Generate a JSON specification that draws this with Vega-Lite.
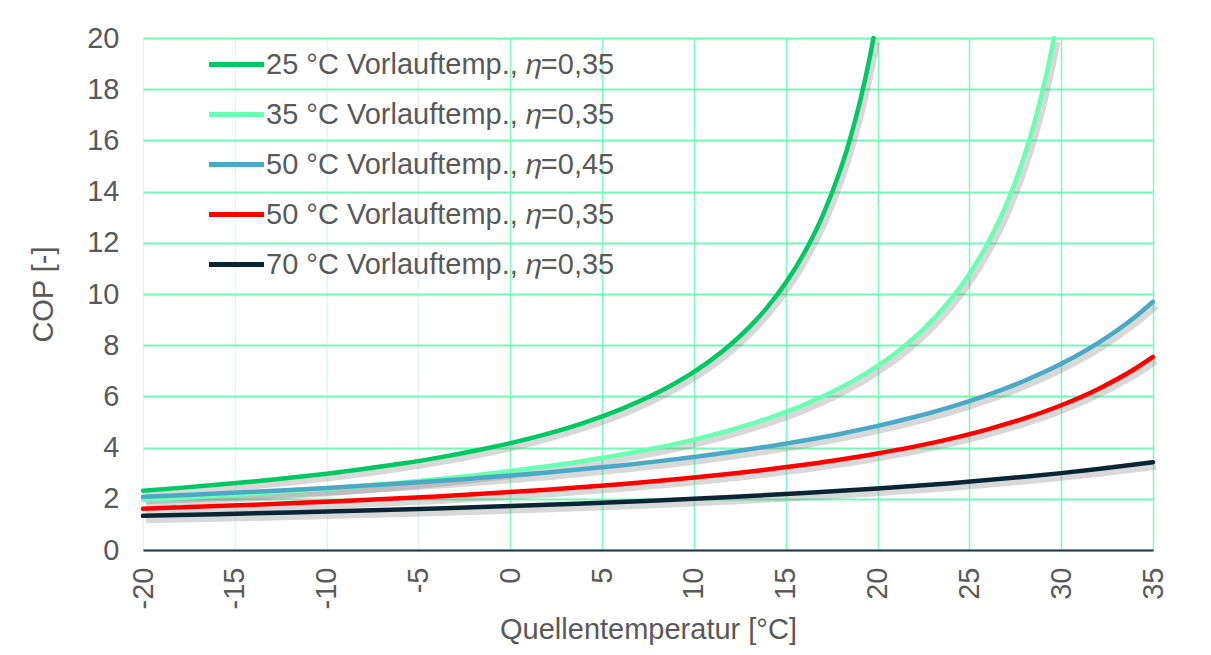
{
  "$schema": "https://vega.github.io/schema/vega-lite/v6.json",
  "width": 1010,
  "height": 512,
  "autosize": {"type": "none"},
  "padding": {"left": 143, "top": 38, "right": 58, "bottom": 105},
  "background": "white",
  "config": {
    "font": "Liberation Sans",
    "view": {"stroke": null},
    "axis": {"labelFont": "Liberation Sans", "titleFont": "Liberation Sans", "labelColor": "#595959", "titleColor": "#595959", "labelFontSize": 29, "titleFontSize": 29, "titleFontWeight": "normal", "ticks": false}
  },
  "datasets": {
    "cop": [
      {"s": "25 °C Vorlauftemp., 𝜂=0,35", "t": -20, "c": 2.319}, {"s": "25 °C Vorlauftemp., 𝜂=0,35", "t": -18, "c": 2.427}, {"s": "25 °C Vorlauftemp., 𝜂=0,35", "t": -16, "c": 2.545}, {"s": "25 °C Vorlauftemp., 𝜂=0,35", "t": -14, "c": 2.676}, {"s": "25 °C Vorlauftemp., 𝜂=0,35", "t": -12, "c": 2.820}, {"s": "25 °C Vorlauftemp., 𝜂=0,35", "t": -10, "c": 2.981}, {"s": "25 °C Vorlauftemp., 𝜂=0,35", "t": -8, "c": 3.162}, {"s": "25 °C Vorlauftemp., 𝜂=0,35", "t": -6, "c": 3.366}, {"s": "25 °C Vorlauftemp., 𝜂=0,35", "t": -4, "c": 3.598}, {"s": "25 °C Vorlauftemp., 𝜂=0,35", "t": -2, "c": 3.865}, {"s": "25 °C Vorlauftemp., 𝜂=0,35", "t": 0, "c": 4.174}, {"s": "25 °C Vorlauftemp., 𝜂=0,35", "t": 2, "c": 4.537}, {"s": "25 °C Vorlauftemp., 𝜂=0,35", "t": 4, "c": 4.969}, {"s": "25 °C Vorlauftemp., 𝜂=0,35", "t": 6, "c": 5.492}, {"s": "25 °C Vorlauftemp., 𝜂=0,35", "t": 8, "c": 6.138}, {"s": "25 °C Vorlauftemp., 𝜂=0,35", "t": 10, "c": 6.957}, {"s": "25 °C Vorlauftemp., 𝜂=0,35", "t": 11, "c": 7.454}, {"s": "25 °C Vorlauftemp., 𝜂=0,35", "t": 12, "c": 8.027}, {"s": "25 °C Vorlauftemp., 𝜂=0,35", "t": 13, "c": 8.696}, {"s": "25 °C Vorlauftemp., 𝜂=0,35", "t": 14, "c": 9.487}, {"s": "25 °C Vorlauftemp., 𝜂=0,35", "t": 15, "c": 10.435}, {"s": "25 °C Vorlauftemp., 𝜂=0,35", "t": 16, "c": 11.595}, {"s": "25 °C Vorlauftemp., 𝜂=0,35", "t": 17, "c": 13.044}, {"s": "25 °C Vorlauftemp., 𝜂=0,35", "t": 18, "c": 14.908}, {"s": "25 °C Vorlauftemp., 𝜂=0,35", "t": 18.5, "c": 16.054}, {"s": "25 °C Vorlauftemp., 𝜂=0,35", "t": 19, "c": 17.392}, {"s": "25 °C Vorlauftemp., 𝜂=0,35", "t": 19.5, "c": 18.973}, {"s": "25 °C Vorlauftemp., 𝜂=0,35", "t": 19.78, "c": 20},
      {"s": "35 °C Vorlauftemp., 𝜂=0,35", "t": -20, "c": 1.961}, {"s": "35 °C Vorlauftemp., 𝜂=0,35", "t": -18, "c": 2.035}, {"s": "35 °C Vorlauftemp., 𝜂=0,35", "t": -16, "c": 2.115}, {"s": "35 °C Vorlauftemp., 𝜂=0,35", "t": -14, "c": 2.201}, {"s": "35 °C Vorlauftemp., 𝜂=0,35", "t": -12, "c": 2.295}, {"s": "35 °C Vorlauftemp., 𝜂=0,35", "t": -10, "c": 2.397}, {"s": "35 °C Vorlauftemp., 𝜂=0,35", "t": -8, "c": 2.508}, {"s": "35 °C Vorlauftemp., 𝜂=0,35", "t": -6, "c": 2.631}, {"s": "35 °C Vorlauftemp., 𝜂=0,35", "t": -4, "c": 2.765}, {"s": "35 °C Vorlauftemp., 𝜂=0,35", "t": -2, "c": 2.915}, {"s": "35 °C Vorlauftemp., 𝜂=0,35", "t": 0, "c": 3.082}, {"s": "35 °C Vorlauftemp., 𝜂=0,35", "t": 2, "c": 3.268}, {"s": "35 °C Vorlauftemp., 𝜂=0,35", "t": 4, "c": 3.479}, {"s": "35 °C Vorlauftemp., 𝜂=0,35", "t": 6, "c": 3.719}, {"s": "35 °C Vorlauftemp., 𝜂=0,35", "t": 8, "c": 3.995}, {"s": "35 °C Vorlauftemp., 𝜂=0,35", "t": 10, "c": 4.314}, {"s": "35 °C Vorlauftemp., 𝜂=0,35", "t": 12, "c": 4.689}, {"s": "35 °C Vorlauftemp., 𝜂=0,35", "t": 14, "c": 5.136}, {"s": "35 °C Vorlauftemp., 𝜂=0,35", "t": 16, "c": 5.676}, {"s": "35 °C Vorlauftemp., 𝜂=0,35", "t": 18, "c": 6.344}, {"s": "35 °C Vorlauftemp., 𝜂=0,35", "t": 20, "c": 7.190}, {"s": "35 °C Vorlauftemp., 𝜂=0,35", "t": 21, "c": 7.704}, {"s": "35 °C Vorlauftemp., 𝜂=0,35", "t": 22, "c": 8.296}, {"s": "35 °C Vorlauftemp., 𝜂=0,35", "t": 23, "c": 8.988}, {"s": "35 °C Vorlauftemp., 𝜂=0,35", "t": 24, "c": 9.805}, {"s": "35 °C Vorlauftemp., 𝜂=0,35", "t": 25, "c": 10.785}, {"s": "35 °C Vorlauftemp., 𝜂=0,35", "t": 26, "c": 11.984}, {"s": "35 °C Vorlauftemp., 𝜂=0,35", "t": 27, "c": 13.482}, {"s": "35 °C Vorlauftemp., 𝜂=0,35", "t": 28, "c": 15.408}, {"s": "35 °C Vorlauftemp., 𝜂=0,35", "t": 28.5, "c": 16.593}, {"s": "35 °C Vorlauftemp., 𝜂=0,35", "t": 29, "c": 17.975}, {"s": "35 °C Vorlauftemp., 𝜂=0,35", "t": 29.3, "c": 18.922}, {"s": "35 °C Vorlauftemp., 𝜂=0,35", "t": 29.61, "c": 20},
      {"s": "50 °C Vorlauftemp., 𝜂=0,45", "t": -20, "c": 2.077}, {"s": "50 °C Vorlauftemp., 𝜂=0,45", "t": -18, "c": 2.139}, {"s": "50 °C Vorlauftemp., 𝜂=0,45", "t": -16, "c": 2.203}, {"s": "50 °C Vorlauftemp., 𝜂=0,45", "t": -14, "c": 2.272}, {"s": "50 °C Vorlauftemp., 𝜂=0,45", "t": -12, "c": 2.345}, {"s": "50 °C Vorlauftemp., 𝜂=0,45", "t": -10, "c": 2.424}, {"s": "50 °C Vorlauftemp., 𝜂=0,45", "t": -8, "c": 2.507}, {"s": "50 °C Vorlauftemp., 𝜂=0,45", "t": -6, "c": 2.597}, {"s": "50 °C Vorlauftemp., 𝜂=0,45", "t": -4, "c": 2.693}, {"s": "50 °C Vorlauftemp., 𝜂=0,45", "t": -2, "c": 2.797}, {"s": "50 °C Vorlauftemp., 𝜂=0,45", "t": 0, "c": 2.908}, {"s": "50 °C Vorlauftemp., 𝜂=0,45", "t": 2, "c": 3.030}, {"s": "50 °C Vorlauftemp., 𝜂=0,45", "t": 4, "c": 3.161}, {"s": "50 °C Vorlauftemp., 𝜂=0,45", "t": 6, "c": 3.305}, {"s": "50 °C Vorlauftemp., 𝜂=0,45", "t": 8, "c": 3.462}, {"s": "50 °C Vorlauftemp., 𝜂=0,45", "t": 10, "c": 3.635}, {"s": "50 °C Vorlauftemp., 𝜂=0,45", "t": 12, "c": 3.827}, {"s": "50 °C Vorlauftemp., 𝜂=0,45", "t": 14, "c": 4.039}, {"s": "50 °C Vorlauftemp., 𝜂=0,45", "t": 16, "c": 4.277}, {"s": "50 °C Vorlauftemp., 𝜂=0,45", "t": 18, "c": 4.544}, {"s": "50 °C Vorlauftemp., 𝜂=0,45", "t": 20, "c": 4.847}, {"s": "50 °C Vorlauftemp., 𝜂=0,45", "t": 22, "c": 5.194}, {"s": "50 °C Vorlauftemp., 𝜂=0,45", "t": 24, "c": 5.593}, {"s": "50 °C Vorlauftemp., 𝜂=0,45", "t": 26, "c": 6.059}, {"s": "50 °C Vorlauftemp., 𝜂=0,45", "t": 28, "c": 6.610}, {"s": "50 °C Vorlauftemp., 𝜂=0,45", "t": 30, "c": 7.271}, {"s": "50 °C Vorlauftemp., 𝜂=0,45", "t": 32, "c": 8.079}, {"s": "50 °C Vorlauftemp., 𝜂=0,45", "t": 34, "c": 9.089}, {"s": "50 °C Vorlauftemp., 𝜂=0,45", "t": 35, "c": 9.695},
      {"s": "50 °C Vorlauftemp., 𝜂=0,35", "t": -20, "c": 1.616}, {"s": "50 °C Vorlauftemp., 𝜂=0,35", "t": -18, "c": 1.663}, {"s": "50 °C Vorlauftemp., 𝜂=0,35", "t": -16, "c": 1.714}, {"s": "50 °C Vorlauftemp., 𝜂=0,35", "t": -14, "c": 1.767}, {"s": "50 °C Vorlauftemp., 𝜂=0,35", "t": -12, "c": 1.824}, {"s": "50 °C Vorlauftemp., 𝜂=0,35", "t": -10, "c": 1.885}, {"s": "50 °C Vorlauftemp., 𝜂=0,35", "t": -8, "c": 1.950}, {"s": "50 °C Vorlauftemp., 𝜂=0,35", "t": -6, "c": 2.020}, {"s": "50 °C Vorlauftemp., 𝜂=0,35", "t": -4, "c": 2.094}, {"s": "50 °C Vorlauftemp., 𝜂=0,35", "t": -2, "c": 2.175}, {"s": "50 °C Vorlauftemp., 𝜂=0,35", "t": 0, "c": 2.262}, {"s": "50 °C Vorlauftemp., 𝜂=0,35", "t": 2, "c": 2.356}, {"s": "50 °C Vorlauftemp., 𝜂=0,35", "t": 4, "c": 2.459}, {"s": "50 °C Vorlauftemp., 𝜂=0,35", "t": 6, "c": 2.571}, {"s": "50 °C Vorlauftemp., 𝜂=0,35", "t": 8, "c": 2.693}, {"s": "50 °C Vorlauftemp., 𝜂=0,35", "t": 10, "c": 2.828}, {"s": "50 °C Vorlauftemp., 𝜂=0,35", "t": 12, "c": 2.976}, {"s": "50 °C Vorlauftemp., 𝜂=0,35", "t": 14, "c": 3.142}, {"s": "50 °C Vorlauftemp., 𝜂=0,35", "t": 16, "c": 3.327}, {"s": "50 °C Vorlauftemp., 𝜂=0,35", "t": 18, "c": 3.534}, {"s": "50 °C Vorlauftemp., 𝜂=0,35", "t": 20, "c": 3.770}, {"s": "50 °C Vorlauftemp., 𝜂=0,35", "t": 22, "c": 4.039}, {"s": "50 °C Vorlauftemp., 𝜂=0,35", "t": 24, "c": 4.350}, {"s": "50 °C Vorlauftemp., 𝜂=0,35", "t": 26, "c": 4.713}, {"s": "50 °C Vorlauftemp., 𝜂=0,35", "t": 28, "c": 5.141}, {"s": "50 °C Vorlauftemp., 𝜂=0,35", "t": 30, "c": 5.655}, {"s": "50 °C Vorlauftemp., 𝜂=0,35", "t": 32, "c": 6.283}, {"s": "50 °C Vorlauftemp., 𝜂=0,35", "t": 34, "c": 7.069}, {"s": "50 °C Vorlauftemp., 𝜂=0,35", "t": 35, "c": 7.540},
      {"s": "70 °C Vorlauftemp., 𝜂=0,35", "t": -20, "c": 1.334}, {"s": "70 °C Vorlauftemp., 𝜂=0,35", "t": -16, "c": 1.397}, {"s": "70 °C Vorlauftemp., 𝜂=0,35", "t": -12, "c": 1.465}, {"s": "70 °C Vorlauftemp., 𝜂=0,35", "t": -8, "c": 1.540}, {"s": "70 °C Vorlauftemp., 𝜂=0,35", "t": -4, "c": 1.623}, {"s": "70 °C Vorlauftemp., 𝜂=0,35", "t": 0, "c": 1.716}, {"s": "70 °C Vorlauftemp., 𝜂=0,35", "t": 4, "c": 1.820}, {"s": "70 °C Vorlauftemp., 𝜂=0,35", "t": 8, "c": 1.937}, {"s": "70 °C Vorlauftemp., 𝜂=0,35", "t": 12, "c": 2.071}, {"s": "70 °C Vorlauftemp., 𝜂=0,35", "t": 16, "c": 2.224}, {"s": "70 °C Vorlauftemp., 𝜂=0,35", "t": 20, "c": 2.402}, {"s": "70 °C Vorlauftemp., 𝜂=0,35", "t": 24, "c": 2.611}, {"s": "70 °C Vorlauftemp., 𝜂=0,35", "t": 28, "c": 2.860}, {"s": "70 °C Vorlauftemp., 𝜂=0,35", "t": 30, "c": 3.003}, {"s": "70 °C Vorlauftemp., 𝜂=0,35", "t": 32, "c": 3.161}, {"s": "70 °C Vorlauftemp., 𝜂=0,35", "t": 34, "c": 3.336}, {"s": "70 °C Vorlauftemp., 𝜂=0,35", "t": 35, "c": 3.432}
    ]
  },
  "data": {"name": "cop"},
  "encoding": {
    "x": {
      "field": "t", "type": "quantitative",
      "scale": {"domain": [-20, 35], "nice": false, "zero": false},
      "axis": {
        "title": "Quellentemperatur [°C]",
        "values": [-20, -15, -10, -5, 0, 5, 10, 15, 20, 25, 30, 35],
        "labelAngle": -90,
        "labelPadding": 17,
        "titlePadding": 7,
        "labelExpr": "toString(datum.value)",
        "domainColor": "#1f3b4d",
        "domainWidth": 2,
        "grid": true,
        "gridWidth": 1.5,
        "gridColor": {"condition": {"test": "datum.value < 0", "value": "#e8f1f7"}, "value": "#7cfbbd"}
      }
    },
    "y": {
      "field": "c", "type": "quantitative",
      "scale": {"domain": [0, 20], "nice": false},
      "axis": {
        "title": "COP [-]",
        "values": [0, 2, 4, 6, 8, 10, 12, 14, 16, 18, 20],
        "domain": false,
        "labelPadding": 24,
        "titlePadding": 28,
        "grid": true,
        "gridWidth": 2,
        "gridColor": "#70fbb4"
      }
    }
  },
  "layer": [
    {
      "mark": {"type": "line", "interpolate": "monotone", "strokeWidth": 7, "color": "#7f7f7f", "opacity": 0.3, "xOffset": 3, "yOffset": 4},
      "encoding": {"detail": {"field": "s"}}
    },
    {
      "mark": {"type": "line", "interpolate": "monotone", "strokeWidth": 4.5, "strokeCap": "round"},
      "encoding": {
        "color": {
          "field": "s", "type": "nominal",
          "scale": {
            "domain": ["25 °C Vorlauftemp., 𝜂=0,35", "35 °C Vorlauftemp., 𝜂=0,35", "50 °C Vorlauftemp., 𝜂=0,45", "50 °C Vorlauftemp., 𝜂=0,35", "70 °C Vorlauftemp., 𝜂=0,35"],
            "range": ["#00c864", "#6affb4", "#4aaac6", "#ff0000", "#0b2535"]
          },
          "legend": {
            "title": null,
            "orient": "none",
            "legendX": 77,
            "legendY": 10,
            "padding": 0,
            "symbolType": "M-2,0H2",
            "symbolSize": 756,
            "symbolStrokeWidth": 5,
            "labelOffset": 13,
            "labelFont": "Liberation Sans",
            "labelFontSize": 29,
            "labelColor": "#595959",
            "labelLimit": 600,
            "rowPadding": 18
          }
        }
      }
    }
  ]
}
